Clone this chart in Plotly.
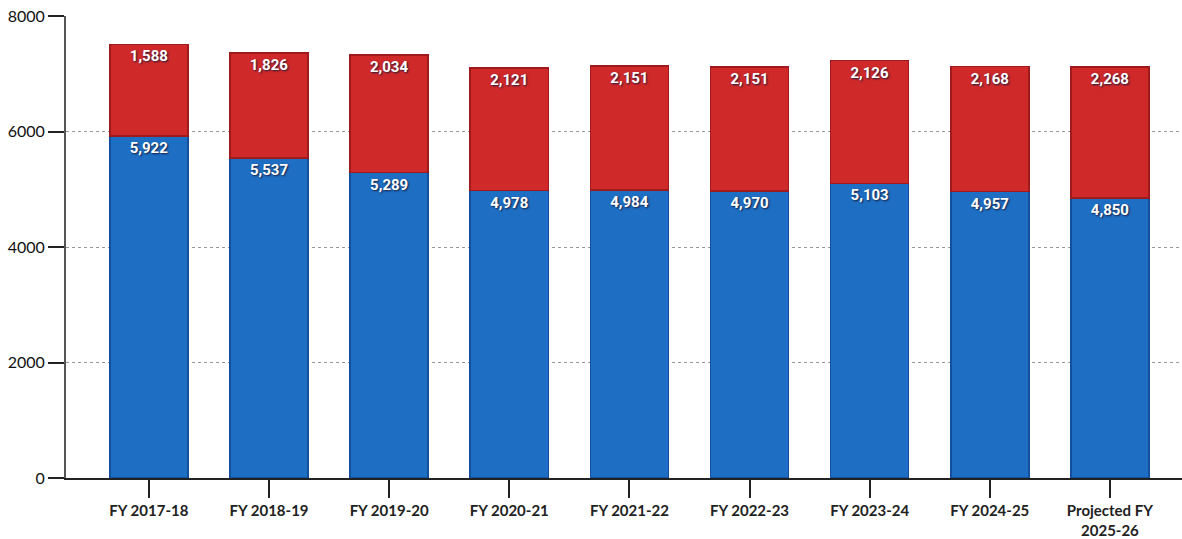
import plotly.graph_objects as go

categories = ["FY 2017-18", "FY 2018-19", "FY 2019-20", "FY 2020-21", "FY 2021-22",
              "FY 2022-23", "FY 2023-24", "FY 2024-25", "Projected FY<br>2025-26"]
blue_vals = [5922, 5537, 5289, 4978, 4984, 4970, 5103, 4957, 4850]
red_vals = [1588, 1826, 2034, 2121, 2151, 2151, 2126, 2168, 2268]
y_ticks = [0, 2000, 4000, 6000, 8000]

label_font = dict(family="Roboto", size=15, color="white", weight="bold",
                  shadow="1px 1px 2px #1a1a3a")

fig = go.Figure()
fig.add_trace(go.Bar(
    x=categories, y=blue_vals, marker=dict(color="#1E6FC4", line=dict(color="#124f9c", width=1.5)),
    texttemplate="%{y:,}", textposition="inside", insidetextanchor="end",
    textfont=label_font, width=0.65, hoverinfo="skip"))
fig.add_trace(go.Bar(
    x=categories, y=red_vals, marker=dict(color="#D0292A", line=dict(color="#9e1a1c", width=1.5)),
    texttemplate="%{y:,}", textposition="inside", insidetextanchor="end",
    textfont=label_font, width=0.65, hoverinfo="skip"))

fig.update_layout(
    barmode="stack", showlegend=False,
    width=1182, height=539,
    margin=dict(l=66, r=0, t=16, b=61),
    paper_bgcolor="white", plot_bgcolor="white",
    uniformtext=dict(mode=False),
)
fig.update_xaxes(
    range=[-0.69, 8.6], showgrid=False, automargin=False, ticklabeloverflow="allow",
    ticks="outside", ticklen=18, tickcolor="#222", tickwidth=2,
    showline=True, linecolor="#222", linewidth=2,
    tickfont=dict(family="Lato", size=15, color="#222", weight="bold"),
)
fig.update_yaxes(
    range=[0, 8000], tickvals=y_ticks, ticktext=[str(v) for v in y_ticks],
    showgrid=True, gridcolor="#999", griddash="dot", gridwidth=1, automargin=False,
    ticklabeloverflow="allow",
    ticks="outside", ticklen=16, tickcolor="#222", tickwidth=2,
    showline=True, linecolor="#555", linewidth=2, zeroline=False,
    tickfont=dict(family="Lato", size=16, color="#111"),
)

# remove the browser's default 8px body margin so the figure fills the window
fig.write_html("out.html", config={"displayModeBar": False},
               post_script="document.body.style.margin='0';")
